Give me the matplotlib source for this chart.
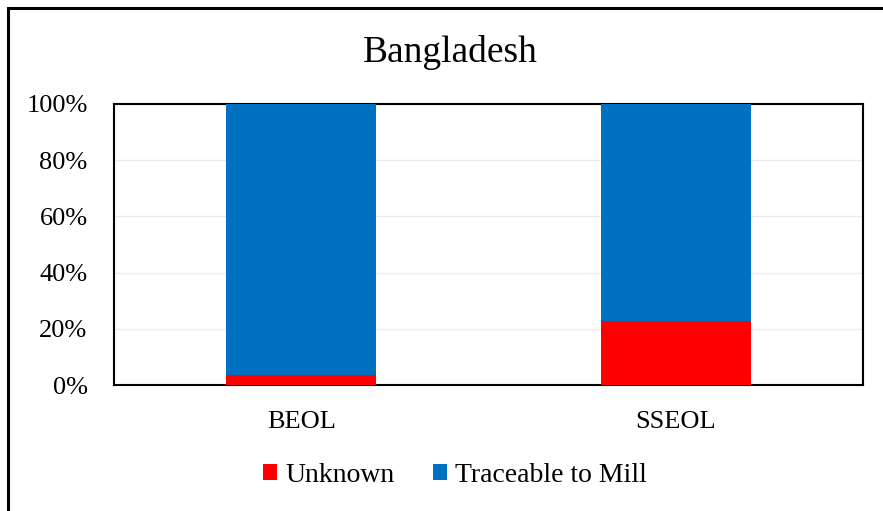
import matplotlib
matplotlib.use("Agg")
import matplotlib.pyplot as plt
from matplotlib.patches import Rectangle
from matplotlib.ticker import FuncFormatter

categories = ["BEOL", "SSEOL"]
unknown = [3.4, 22.8]
traceable = [96.6, 77.2]
series_names = ["Unknown", "Traceable to Mill"]
colors = ["#FF0000", "#0070C0"]
title = "Bangladesh"

plt.rcParams['font.family'] = ['Liberation Serif', 'DejaVu Serif']

fig = plt.figure(figsize=(8.83, 5.11), dpi=100)
ax = fig.add_axes([114/883, 1-385/511, (863-114)/883, (385-104)/511])

x = list(range(len(categories)))
ax.bar(x, unknown, width=0.4, color=colors[0], label=series_names[0], zorder=3)
ax.bar(x, traceable, width=0.4, bottom=unknown, color=colors[1], label=series_names[1], zorder=3)

ax.set_xlim(-0.5, 1.5)
ax.set_ylim(0, 100)
ax.set_yticks([0, 20, 40, 60, 80, 100])
ax.yaxis.set_major_formatter(FuncFormatter(lambda v, p: f"{int(v)}%"))
ax.set_xticks(x)
ax.set_xticklabels(categories)
ax.tick_params(axis='both', length=0, labelsize=19, colors='black')
ax.tick_params(axis='y', pad=19)
ax.tick_params(axis='x', pad=19)
ax.grid(axis='y', color='#ebebeb', linewidth=1, zorder=0)
for s in ax.spines.values():
    s.set_color('black')
    s.set_linewidth(1.5)

fig.text(450/883, 1-53/511, title, ha='center', va='center', fontsize=27)

fig.legend(loc='center', bbox_to_anchor=(455/883, 1-475/511), ncol=2, frameon=False,
           fontsize=20, handlelength=0.5, handleheight=0.5, handletextpad=0.3,
           columnspacing=1.4)

fig.patches.append(Rectangle((8/883, -0.1), 1.2, 1 - 8/511 + 0.1, transform=fig.transFigure,
                             fill=False, edgecolor='black', linewidth=2.2, clip_on=False))

fig.savefig("out.png", dpi=100)
